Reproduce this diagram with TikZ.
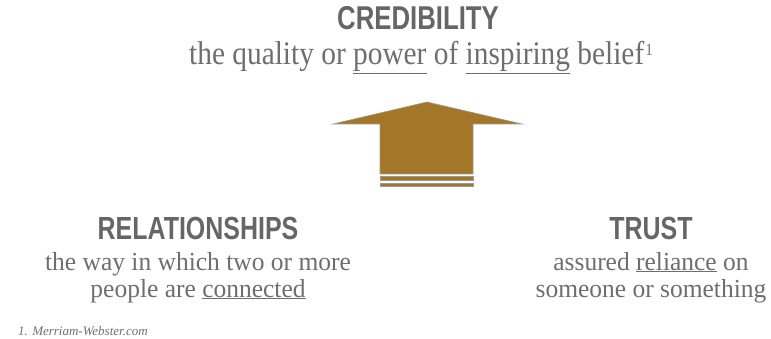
\documentclass[tikz,border=0pt]{standalone}
\usepackage{fontspec}
\setmainfont{Liberation Serif}
\newfontfamily\headfont[FakeStretch=0.78]{Liberation Sans}
\newfontfamily\subfont[FakeStretch=0.89]{Liberation Serif}
\newfontfamily\lowfont[FakeStretch=0.98]{Liberation Serif}
\definecolor{txtgray}{HTML}{6E6E6E}
\definecolor{headgray}{HTML}{666666}
\definecolor{arrowgold}{HTML}{A47628}
\definecolor{edgegray}{HTML}{9A9A9A}
\begin{document}
\begin{tikzpicture}[x=1pt,y=-1pt,
  head/.style={text=headgray,font=\headfont\bfseries\fontsize{32}{32}\selectfont,anchor=base,inner sep=0pt},
  bighead/.style={head,font=\headfont\bfseries\fontsize{33}{33}\selectfont},
  subtxt/.style={text=txtgray,font=\subfont\fontsize{33}{36}\selectfont,anchor=base,inner sep=0pt},
  body/.style={text=txtgray,font=\lowfont\fontsize{26}{28}\selectfont,anchor=base,inner sep=0pt},
  foot/.style={text=txtgray,font=\itshape\fontsize{13}{15}\selectfont,anchor=base west,inner sep=0pt},
  goldpart/.style={fill=arrowgold,draw=edgegray,line width=0.6pt}]
\useasboundingbox (0,0) rectangle (771,339);
\node[bighead] (cred) at (418,30) {CREDIBILITY};
\node[subtxt] (credtxt) at (421,65) {the quality or \underline{power} of \underline{inspiring} belief\kern1pt\raisebox{9pt}{\fontsize{17}{17}\selectfont 1}};
\node[head] (rel) at (198,240) {RELATIONSHIPS};
\node[body] (rel1) at (198,270) {the way in which two or more};
\node[body] (rel2) at (198,297) {people are \underline{connected}};
\node[head] (trust) at (651,240) {TRUST};
\node[body] (tr1) at (651,270) {assured \underline{reliance} on};
\node[body] (tr2) at (651,297) {someone or something};
\node[foot] (fn) at (18,335) {1. Merriam-Webster.com};
\draw[goldpart] (427,102) -- (522,124) -- (473,124) -- (473,174) -- (380,174) -- (380,124) -- (333,124) -- cycle;
\draw[goldpart] (380,176) rectangle (473,180);
\draw[goldpart] (380,183) rectangle (473,186);
\end{tikzpicture}
\end{document}
